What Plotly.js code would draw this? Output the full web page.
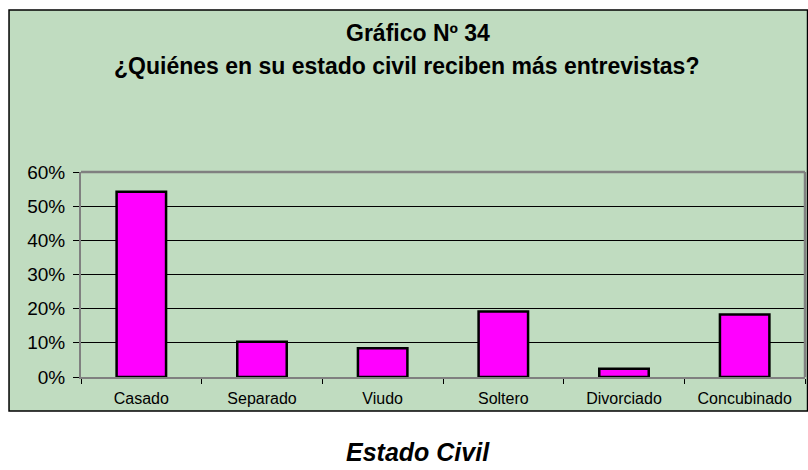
<!DOCTYPE html>
<html>
<head>
<meta charset="utf-8">
<script src="https://cdn.plot.ly/plotly-3.0.1.min.js"></script>
<style>html,body{margin:0;padding:0;background:#fff;}#chart{width:808px;height:470px;}</style>
</head>
<body>
<div id="chart"></div>
<script>
const categories = ["Casado", "Separado", "Viudo", "Soltero", "Divorciado", "Concubinado"];
const values = [0.542, 0.103, 0.084, 0.192, 0.024, 0.183];
const yTickVals = [0, 0.1, 0.2, 0.3, 0.4, 0.5, 0.6];
const yTickText = ["0%", "10%", "20%", "30%", "40%", "50%", "60%"];
const titleLine1 = "Gráfico Nº 34";
const titleLine2 = "¿Quiénes en su estado civil reciben más entrevistas?";
const xTitle = "Estado Civil";

const font = "Arial, 'Liberation Sans', sans-serif";

const trace = {
  type: "bar",
  x: categories,
  y: values,
  marker: {color: "#FF00FF", line: {color: "#000000", width: 2.5}},
  hoverinfo: "none"
};

const layout = {
  width: 808, height: 470,
  margin: {l: 81, r: 3, t: 172, b: 93, pad: 0},
  paper_bgcolor: "#FFFFFF",
  plot_bgcolor: "rgba(0,0,0,0)",
  bargap: 0.59,
  showlegend: false,
  font: {family: font, color: "#000000"},
  xaxis: {
    type: "category",
    showline: true, linecolor: "#808080", linewidth: 2,
    ticks: "outside", tickson: "boundaries", ticklen: 5, tickcolor: "#000000", tickwidth: 1,
    ticklabelstandoff: 6,
    tickfont: {family: font, size: 16, color: "#000000"},
    showgrid: false, zeroline: false,
    mirror: false, fixedrange: true
  },
  yaxis: {
    range: [0, 0.6],
    tickvals: yTickVals, ticktext: yTickText,
    showline: true, linecolor: "#808080", linewidth: 2,
    ticks: "outside", ticklen: 6, tickcolor: "#000000", tickwidth: 1,
    ticklabelstandoff: 4,
    tickfont: {family: font, size: 19, color: "#000000"},
    showgrid: true, gridcolor: "#000000", gridwidth: 1,
    zeroline: false, fixedrange: true
  },
  shapes: [
    {type: "rect", xref: "paper", yref: "paper", layer: "below",
     x0: -0.0994, x1: 1.0035, y0: -0.166, y1: 1.790,
     fillcolor: "#C0DCC0", line: {color: "#000000", width: 1.5}},
    {type: "line", xref: "paper", yref: "paper", layer: "above",
     x0: 0, x1: 1, y0: 1, y1: 1, line: {color: "#808080", width: 2.5}},
    {type: "line", xref: "paper", yref: "paper", layer: "above",
     x0: 1, x1: 1, y0: 0, y1: 1, line: {color: "#808080", width: 2.5}}
  ],
  annotations: [
    {text: "<b>" + titleLine1 + "</b>", xref: "paper", yref: "paper",
     x: 0.4655, y: 1.678, xanchor: "center", yanchor: "middle", showarrow: false,
     font: {family: font, size: 23, color: "#000000"}},
    {text: "<b>" + titleLine2 + "</b>", xref: "paper", yref: "paper",
     x: 0.450, y: 1.517, xanchor: "center", yanchor: "middle", showarrow: false,
     font: {family: font, size: 23, color: "#000000"}},
    {text: "<b><i>" + xTitle + "</i></b>", xref: "paper", yref: "paper",
     x: 0.4655, y: -0.365, xanchor: "center", yanchor: "middle", showarrow: false,
     font: {family: font, size: 25, color: "#000000"}}
  ]
};

Plotly.newPlot("chart", [trace], layout, {displayModeBar: false, staticPlot: true});
</script>
</body>
</html>
